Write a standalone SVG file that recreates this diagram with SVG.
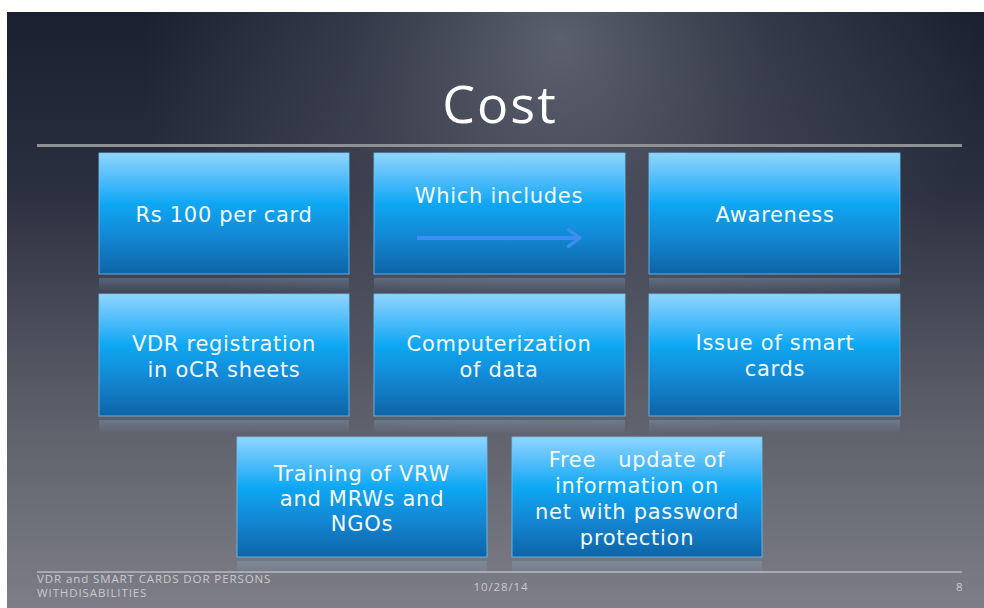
<svg xmlns="http://www.w3.org/2000/svg" width="984" height="608" viewBox="0 0 984 608">
<defs>
  <linearGradient id="bgv" x1="0" y1="12" x2="0" y2="608" gradientUnits="userSpaceOnUse">
    <stop offset="0" stop-color="#1a2030"/>
    <stop offset="0.3" stop-color="#2b3040"/>
    <stop offset="0.65" stop-color="#5a5c67"/>
    <stop offset="1" stop-color="#7d7e87"/>
  </linearGradient>
  <radialGradient id="bgr" cx="560" cy="40" r="420" gradientUnits="userSpaceOnUse">
    <stop offset="0" stop-color="#9a9eaa" stop-opacity="0.5"/>
    <stop offset="0.5" stop-color="#8a8e9a" stop-opacity="0.22"/>
    <stop offset="1" stop-color="#8a8e9a" stop-opacity="0"/>
  </radialGradient>
  <linearGradient id="box" x1="0" y1="0" x2="0" y2="1">
    <stop offset="0" stop-color="#90d5fd"/>
    <stop offset="0.22" stop-color="#4fbcfb"/>
    <stop offset="0.42" stop-color="#0ea7f3"/>
    <stop offset="0.7" stop-color="#1386d2"/>
    <stop offset="1" stop-color="#0e64a6"/>
  </linearGradient>
  <linearGradient id="refl" x1="0" y1="0" x2="0" y2="1">
    <stop offset="0" stop-color="#8fb6d6" stop-opacity="0.3"/>
    <stop offset="1" stop-color="#8fb6d6" stop-opacity="0"/>
  </linearGradient>
  <marker id="chev" viewBox="0 0 12 12" refX="9" refY="6" markerWidth="5" markerHeight="5" orient="auto" markerUnits="strokeWidth">
    <path d="M2,1 L9,6 L2,11" fill="none" stroke="#3d8ef2" stroke-width="2" stroke-linecap="round" stroke-linejoin="round"/>
  </marker>
</defs>
<style>
  .bx { fill: url(#box); stroke: #6fc3f4; stroke-width: 0.8; }
  .rf { fill: url(#refl); }
  .t { font-family: "DejaVu Sans", "Open Sans", sans-serif; font-size: 21px; letter-spacing: 0.7px; fill: #f4f9ff; text-anchor: middle; }
  .ft { font-family: "Open Sans", "Liberation Sans", sans-serif; font-size: 11.5px; letter-spacing: 0.9px; fill: #c9cad0; }
</style>
<rect x="0" y="0" width="984" height="608" fill="#ffffff"/>
<rect x="7" y="12" width="977" height="596" fill="url(#bgv)"/>
<rect x="7" y="12" width="977" height="596" fill="url(#bgr)"/>

<g id="title">
  <text x="500" y="123" font-family="'Open Sans', 'Noto Sans', sans-serif" font-size="52" letter-spacing="2" fill="#ffffff" text-anchor="middle">Cost</text>
  <rect x="37" y="144" width="925" height="3" fill="#8f9096"/>
</g>

<g id="node-rs100">
  <rect class="bx" x="99" y="153" width="250" height="121"/>
  <rect class="rf" x="99" y="278" width="250" height="14"/>
  <text class="t" x="224" y="222">Rs 100 per card</text>
</g>
<g id="node-which-includes">
  <rect class="bx" x="374" y="153" width="251" height="121"/>
  <rect class="rf" x="374" y="278" width="251" height="14"/>
  <text class="t" x="499" y="203">Which includes</text>
</g>
<g id="node-awareness">
  <rect class="bx" x="649" y="153" width="251" height="121"/>
  <rect class="rf" x="649" y="278" width="251" height="14"/>
  <text class="t" x="775" y="222">Awareness</text>
</g>

<g id="node-vdr">
  <rect class="bx" x="99" y="294" width="250" height="122"/>
  <rect class="rf" x="99" y="420" width="250" height="14"/>
  <text class="t" x="224" y="351">VDR registration</text>
  <text class="t" x="224" y="377">in oCR sheets</text>
</g>
<g id="node-computerization">
  <rect class="bx" x="374" y="294" width="251" height="122"/>
  <rect class="rf" x="374" y="420" width="251" height="14"/>
  <text class="t" x="499" y="351">Computerization</text>
  <text class="t" x="499" y="377">of data</text>
</g>
<g id="node-issue">
  <rect class="bx" x="649" y="294" width="251" height="122"/>
  <rect class="rf" x="649" y="420" width="251" height="14"/>
  <text class="t" x="775" y="350">Issue of smart</text>
  <text class="t" x="775" y="376">cards</text>
</g>

<g id="node-training">
  <rect class="bx" x="237" y="437" width="250" height="120"/>
  <rect class="rf" x="237" y="561" width="250" height="14"/>
  <text class="t" x="362" y="481">Training of VRW</text>
  <text class="t" x="362" y="506">and MRWs and</text>
  <text class="t" x="362" y="531">NGOs</text>
</g>
<g id="node-free-update">
  <rect class="bx" x="512" y="437" width="250" height="120"/>
  <rect class="rf" x="512" y="561" width="250" height="14"/>
  <text class="t" x="637" y="467" xml:space="preserve">Free   update of</text>
  <text class="t" x="637" y="493">information on</text>
  <text class="t" x="637" y="519">net with password</text>
  <text class="t" x="637" y="545">protection</text>
</g>

<g id="connectors">
  <line x1="417" y1="238" x2="580" y2="238" stroke="#3d8ef2" stroke-width="4" marker-end="url(#chev)"/>
</g>

<g id="footer">
  <rect x="37" y="571" width="925" height="2" fill="#b4b5bb" opacity="0.8"/>
  <text class="ft" x="37" y="583">VDR and SMART CARDS DOR PERSONS</text>
  <text class="ft" x="37" y="597">WITHDISABILITIES</text>
  <text class="ft" x="501" y="591" text-anchor="middle">10/28/14</text>
  <text class="ft" x="956" y="591">8</text>
</g>
</svg>
